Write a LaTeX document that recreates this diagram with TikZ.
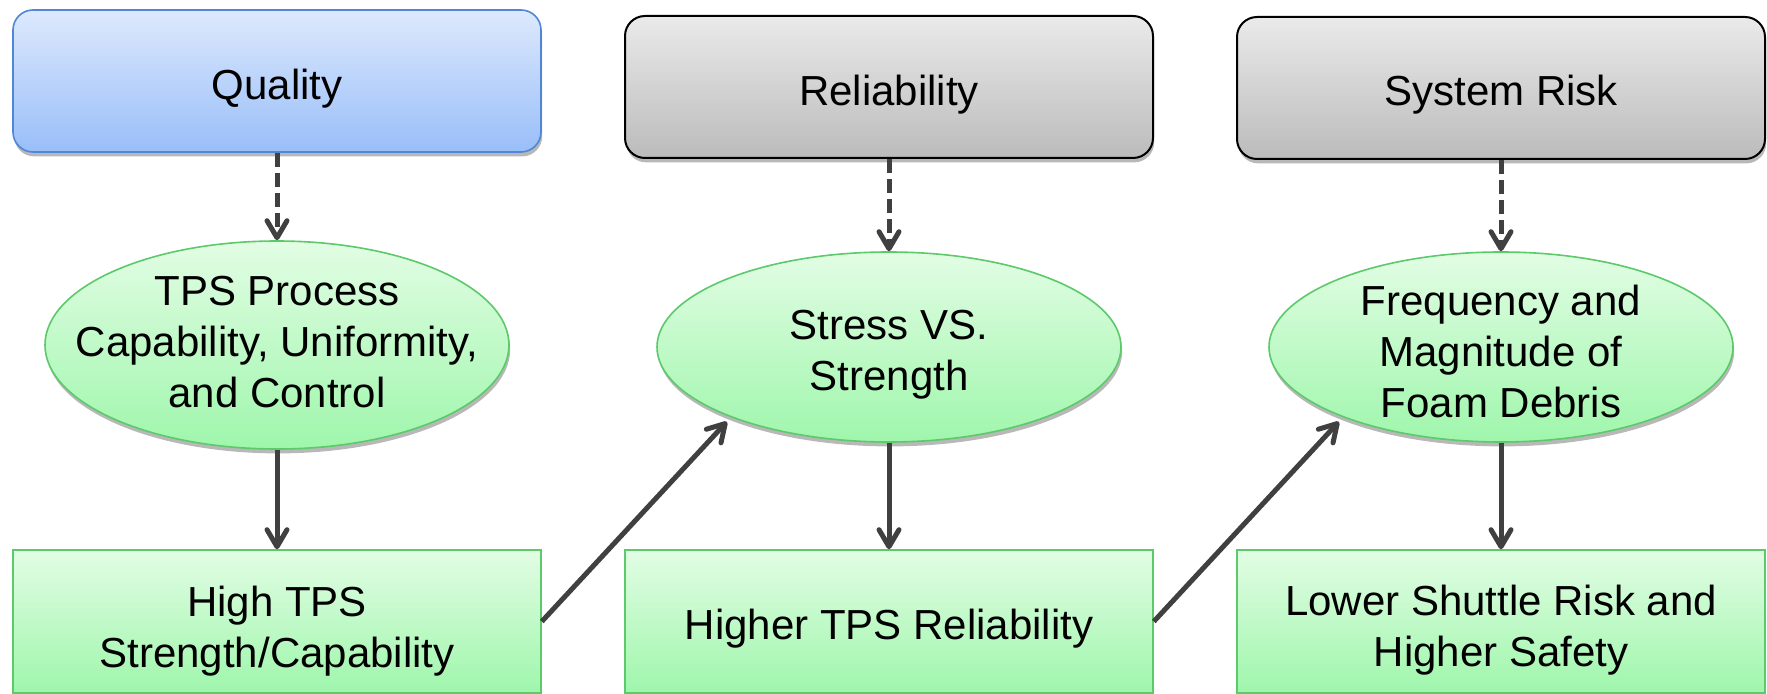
\documentclass[tikz,border=0pt]{standalone}
\usepackage{fontspec}
\setmainfont{Liberation Sans}
\usetikzlibrary{arrows.meta,shapes.geometric,shadows}

\definecolor{qtop}{HTML}{DDE9FD}
\definecolor{qbot}{HTML}{99BEF9}
\definecolor{qline}{HTML}{4F86D6}
\definecolor{gtop}{HTML}{EAEAEA}
\definecolor{gbot}{HTML}{BBBBBB}
\definecolor{ftop}{HTML}{E2FDE4}
\definecolor{fbot}{HTML}{9FF6AC}
\definecolor{fline}{HTML}{5CC96B}
\definecolor{arrowgray}{HTML}{404040}

% Centred lines of text that take no room of their own, so the shape keeps
% its set size; #1 raises the first baseline relative to the node centre.
\newcommand{\nodelines}[2]{\smash{\raisebox{#1}{\makebox[0pt]{\begin{tabular}[t]{@{}c@{}}#2\end{tabular}}}}}

\tikzset{
  txt/.style={font=\fontsize{21}{25.5}\selectfont, text=black},
  shadowed/.style={drop shadow={shadow xshift=0.6pt, shadow yshift=-2.2pt, opacity=0.28, fill=black}},
  headbox/.style={txt, shadowed, rectangle, rounded corners=10pt, minimum width=264pt, minimum height=71pt, inner sep=0pt},
  bluehead/.style={headbox, draw=qline, line width=0.8pt, top color=qtop, bottom color=qbot},
  grayhead/.style={headbox, draw=black, line width=1pt, top color=gtop, bottom color=gbot},
  factor/.style={txt, shadowed, ellipse, draw=fline, line width=0.8pt, top color=ftop, bottom color=fbot, minimum width=232pt, inner sep=0pt},
  outcome/.style={txt, rectangle, draw=fline, line width=0.8pt, top color=ftop, bottom color=fbot, minimum width=264pt, minimum height=71.5pt, inner sep=0pt},
  link/.style={draw=arrowgray, line width=2.5pt, -{Straight Barb[length=8.5pt,width=10pt,round]}},
  dashlink/.style={link, dash pattern=on 7pt off 3pt}
}

\begin{document}
\begin{tikzpicture}[x=0.5pt,y=-0.5pt]
\useasboundingbox (0,0) rectangle (1767,694);

% category headers
\node[bluehead] (qual) at (277,81) {\nodelines{-9.3pt}{Quality}};
\node[grayhead] (rel)  at (889,87) {\nodelines{-9.3pt}{Reliability}};
\node[grayhead] (risk) at (1501,88) {\nodelines{-8.7pt}{System Risk}};

% contributing factors
\node[factor, minimum height=104pt] (proc)   at (277,345)  {\nodelines{19.8pt}{TPS Process\\Capability, Uniformity,\\and Control}};
\node[factor, minimum height=95pt]  (stress) at (889,347)  {\nodelines{3.5pt}{Stress VS.\\Strength}};
\node[factor, minimum height=95pt]  (foam)   at (1501,347) {\nodelines{15.7pt}{Frequency and\\Magnitude of\\Foam Debris}};

% outcomes
\node[outcome] (strength) at (277,621.5)  {\nodelines{2.5pt}{High TPS\\Strength/Capability}};
\node[outcome] (tpsrel)   at (889,621.5)  {\nodelines{-9pt}{Higher TPS Reliability}};
\node[outcome] (safety)   at (1501,621.5) {\nodelines{2.8pt}{Lower Shuttle Risk and\\Higher Safety}};

% header to factor
\draw[dashlink] (qual.south) -- (proc.north);
\draw[dashlink] (rel.south)  -- (stress.north);
\draw[dashlink] (risk.south) -- (foam.north);

% factor to outcome
\draw[link] (proc.south)   -- (strength.north);
\draw[link] (stress.south) -- (tpsrel.north);
\draw[link] (foam.south)   -- (safety.north);

% outcome feeds the next factor
\draw[link, shorten >=3pt] (strength.east) -- (stress.204);
\draw[link, shorten >=3pt] (tpsrel.east)   -- (foam.204);
\end{tikzpicture}
\end{document}
